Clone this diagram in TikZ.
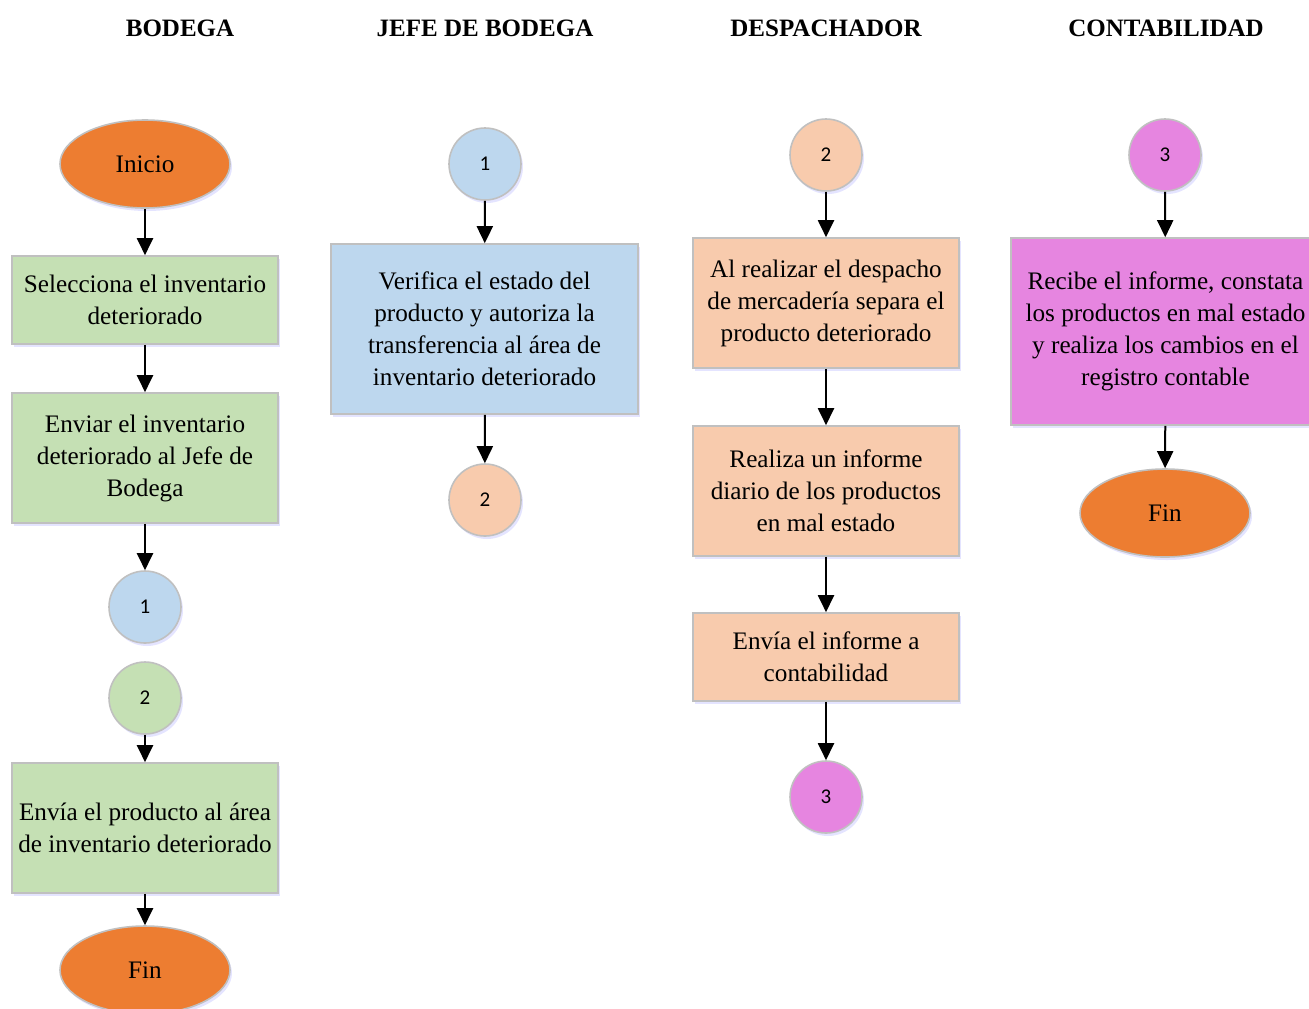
\documentclass[tikz,border=0pt]{standalone}
\usepackage{fontspec}
\setmainfont{Liberation Serif}
\newfontfamily\numfont{Carlito}
\usepackage{xcolor}
\usepackage{tikz}
\usetikzlibrary{arrows.meta}
\usetikzlibrary{positioning}
\usetikzlibrary{shapes.geometric, shadows}
\definecolor{naranja}{HTML}{ED7D31}
\definecolor{verde}{HTML}{C5E0B4}
\definecolor{azul}{HTML}{BDD7EE}
\definecolor{durazno}{HTML}{F8CBAD}
\definecolor{rosa}{HTML}{E685E0}
\definecolor{borde}{HTML}{C0C0C0}
\tikzstyle{arrow} = [line width=1pt,-{Triangle[width=8pt,length=8.5pt]}]
\tikzstyle{sombra} = [drop shadow={shadow xshift=1pt, shadow yshift=-1.5pt, fill=blue!30, opacity=.35}]
\tikzstyle{caja} = [draw=borde, line width=0.8pt, sombra, minimum width=133pt, align=center, inner sep=2pt, font=\fontsize{12.6}{16}\selectfont]
\tikzstyle{terminal} = [ellipse, draw=borde, line width=0.8pt, sombra, fill=naranja, minimum width=85pt, minimum height=44pt, font=\fontsize{12.6}{14}\selectfont]
\tikzstyle{conector} = [circle, draw=borde, line width=0.8pt, sombra, minimum size=36pt, inner sep=0pt, font=\numfont\fontsize{10.5}{12}\selectfont]
\tikzstyle{titulo} = [font=\bfseries\fontsize{12.5}{14}\selectfont]

\begin{document}
\begin{tikzpicture}[x=0.5pt, y=-0.5pt]
  \useasboundingbox (0,0) rectangle (1309,1008);
  % encabezados
  \node[titulo] (tbod) at (180,28) {BODEGA};
  \node[titulo] (tjefe) at (485,28) {JEFE DE BODEGA};
  \node[titulo] (tdesp) at (826,28) {DESPACHADOR};
  \node[titulo] (tcont) at (1166,28) {CONTABILIDAD};

  % bodega
  \node[terminal] (inicio) at (145,164) {Inicio};
  \node[caja, fill=verde, minimum height=44pt] (selec) at (145,300) {Selecciona el inventario\\deteriorado};
  \node[caja, fill=verde, minimum height=65pt] (enviar) at (145,458) {Enviar el inventario\\deteriorado al Jefe de\\Bodega};
  \node[conector, fill=azul] (bod1) at (145,607) {1};
  \node[conector, fill=verde] (bod2) at (145,698) {2};
  \node[caja, fill=verde, minimum height=65pt] (envia) at (145,828) {Envía el producto al área\\de inventario deteriorado};
  \node[terminal] (fin1) at (145,970) {Fin};
  \draw[arrow] (inicio) -- (selec);
  \draw[arrow] (selec) -- (enviar);
  \draw[arrow] (enviar) -- (bod1);
  \draw[arrow] (bod2) -- (envia);
  \draw[arrow] (envia) -- (fin1);

  % jefe de bodega
  \node[conector, fill=azul] (jefe1) at (485,164) {1};
  \node[caja, fill=azul, minimum width=153.5pt, minimum height=85pt] (verif) at (484.5,329) {Verifica el estado del\\producto y autoriza la\\transferencia al área de\\inventario deteriorado};
  \node[conector, fill=durazno] (jefe2) at (485,500) {2};
  \draw[arrow] (jefe1) -- (verif);
  \draw[arrow] (verif) -- (jefe2);

  % despachador
  \node[conector, fill=durazno] (desp2) at (826,155) {2};
  \node[caja, fill=durazno, minimum height=65pt] (separa) at (826,303) {Al realizar el despacho\\de mercadería separa el\\producto deteriorado};
  \node[caja, fill=durazno, minimum height=65pt] (informe) at (826,491) {Realiza un informe\\diario de los productos\\en mal estado};
  \node[caja, fill=durazno, minimum height=44pt] (envinf) at (826,657) {Envía el informe a\\contabilidad};
  \node[conector, fill=rosa] (desp3) at (826,797) {3};
  \draw[arrow] (desp2) -- (separa);
  \draw[arrow] (separa) -- (informe);
  \draw[arrow] (informe) -- (envinf);
  \draw[arrow] (envinf) -- (desp3);

  % contabilidad
  \node[conector, fill=rosa] (cont3) at (1165,155) {3};
  \node[caja, fill=rosa, minimum width=154.5pt, minimum height=93.5pt] (recibe) at (1165.5,331.5) {Recibe el informe, constata\\los productos en mal estado\\y realiza los cambios en el\\registro contable};
  \node[terminal] (fin2) at (1165,513) {Fin};
  \draw[arrow] (cont3) -- (recibe);
  \draw[arrow] (recibe) -- (fin2);
\end{tikzpicture}
\end{document}
